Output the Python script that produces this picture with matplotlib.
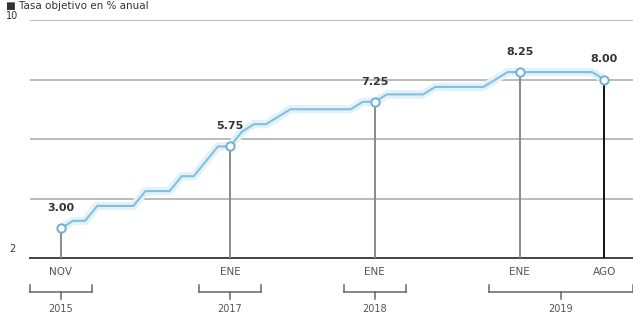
import numpy as np
import matplotlib
matplotlib.use("Agg")
import matplotlib.pyplot as plt
import matplotlib.transforms as mtrans

# Tasa objetivo mensual, nov 2015 - ago 2019
rates = [3.00, 3.25,
         3.25, 3.75, 3.75, 3.75, 3.75, 4.25, 4.25, 4.25, 4.75, 4.75, 5.25, 5.75,
         5.75, 6.25, 6.50, 6.50, 6.75, 7.00, 7.00, 7.00, 7.00, 7.00, 7.00, 7.25,
         7.25, 7.50, 7.50, 7.50, 7.50, 7.75, 7.75, 7.75, 7.75, 7.75, 8.00, 8.25,
         8.25, 8.25, 8.25, 8.25, 8.25, 8.25, 8.25, 8.00]

# highlighted points (month index from nov 2015)
key_idx = [0, 14, 26, 38, 45]
key_months = ["NOV", "ENE", "ENE", "ENE", "AGO"]
key_labels = ["3.00", "5.75", "7.25", "8.25", "8.00"]
drop_colors = ["#8a8a8a", "#8a8a8a", "#8a8a8a", "#8a8a8a", "#111111"]

years = ["2015", "2017", "2018", "2019"]
year_spans = [(0, 0), (14, 14), (26, 26), (38, 45)]

y_ticks = [2, 4, 6, 8, 10]
y_tick_labels = {2: "2", 10: "10"}

W, H = 633, 315
fig = plt.figure(figsize=(W / 100, H / 100), dpi=100)
# axes in pixel coords: x 30..633, y 20..258
ax = fig.add_axes([30 / W, 1 - 258 / H, (633 - 30) / W, (258 - 20) / H])

px_per_month = 12.07
x0_px = 61
xmin = (30 - x0_px) / px_per_month
xmax = (633 - x0_px) / px_per_month
ax.set_xlim(xmin, xmax)
ax.set_ylim(2, 10)
ax.axis("off")

x = np.arange(len(rates))

# grid lines
for yv in y_ticks[1:]:
    ax.axhline(yv, color="#b5b5b5", lw=1.3, zorder=1)
ax.axhline(2, color="#444444", lw=1.4, zorder=3, clip_on=False)

for yv, lab in y_tick_labels.items():
    ax.text(xmin - 1.5, yv + 0.12, lab, fontsize=7, color="#333333",
            ha="center", va="bottom" if yv == 2 else "center", clip_on=False)

# glow and line
ax.plot(x, rates, color="#e2f2fb", lw=6, zorder=2, solid_capstyle="round")
ax.plot(x, rates, color="#86bfdc", lw=1.5, zorder=4)

for i, lab, c in zip(key_idx, key_labels, drop_colors):
    ax.plot([i, i], [2, rates[i]], color=c, lw=1.4, zorder=3)
    ax.plot(i, rates[i], "o", ms=6, mfc="white", mec="#6fb0d4", mew=1.4, zorder=5)
    ax.annotate(lab, (i, rates[i]), xytext=(0, 11), textcoords="offset points",
                ha="center", va="bottom", fontsize=8, fontweight="bold", color="#333333")

# month labels and year brackets below the axis
trans = mtrans.blended_transform_factory(ax.transData, ax.transAxes)
ax_h = 258 - 20
def yfrac(py):
    return (258 - py) / ax_h

for i, m in zip(key_idx, key_months):
    ax.text(i, yfrac(272), m, transform=trans, ha="center", va="center",
            fontsize=7.5, color="#555555", clip_on=False)

half = 31 / px_per_month
for yr, (a, b) in zip(years, year_spans):
    left = a - half
    right = xmax if b != a else b + half
    mid = (left + right) / 2
    yb = yfrac(292)
    ax.plot([left, right], [yb, yb], transform=trans, color="#666666", lw=1.1, clip_on=False)
    ax.plot([left, left], [yb, yfrac(285)], transform=trans, color="#666666", lw=1.1, clip_on=False)
    ax.plot([right, right], [yb, yfrac(285)], transform=trans, color="#666666", lw=1.1, clip_on=False)
    ax.plot([mid, mid], [yb, yfrac(299)], transform=trans, color="#666666", lw=1.1, clip_on=False)
    ax.text(mid, yfrac(309), yr, transform=trans, ha="center", va="center",
            fontsize=7, color="#555555", clip_on=False)

fig.text(6 / W, 1 - 6 / H, "\u25a0 Tasa objetivo en % anual", fontsize=7.5,
         color="#333333", ha="left", va="center")

fig.savefig("out.png", dpi=100, facecolor="white")
